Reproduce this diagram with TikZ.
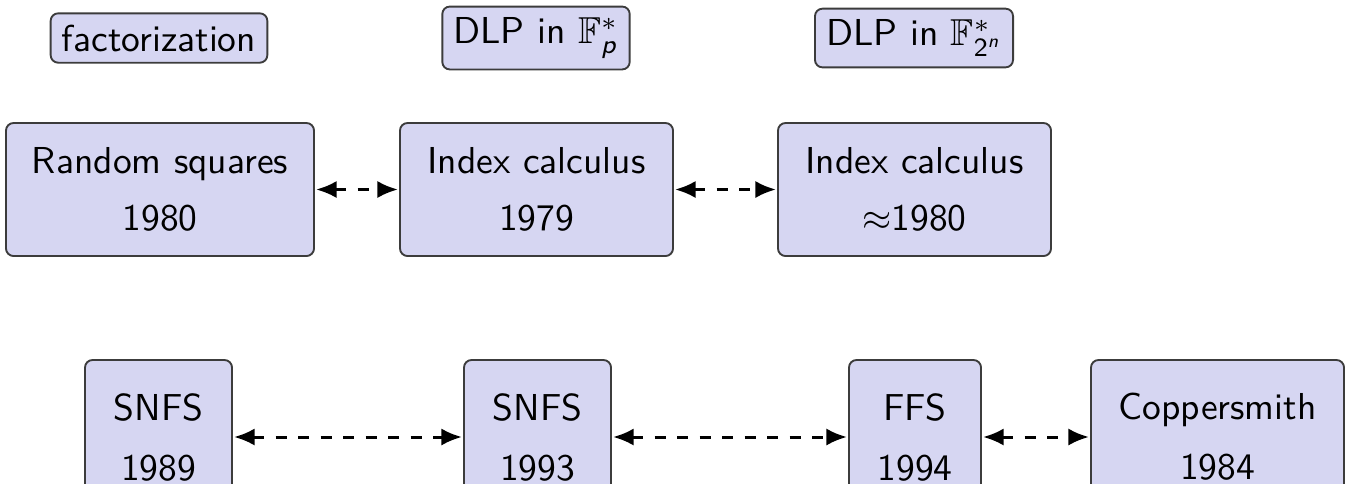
\documentclass[tikz,border=0pt]{standalone}
\usepackage{amsmath,amssymb}
\usetikzlibrary{arrows.meta}
\definecolor{boxfill}{RGB}{214,214,242}
\definecolor{boxline}{RGB}{60,60,60}
\tikzset{
  px/.style={x=0.26667pt,y=-0.26667pt},
  box/.style={draw=boxline, fill=boxfill, rounded corners=2pt, line width=0.5pt,
    font=\sffamily, align=center, inner sep=0pt},
  label/.style={draw=boxline, fill=boxfill, rounded corners=2pt, line width=0.5pt,
    font=\sffamily, inner sep=3pt},
  link/.style={dashed, line width=0.8pt, {Latex[length=5.5pt,width=4.6pt]}-{Latex[length=5.5pt,width=4.6pt]}, shorten <=0.3pt, shorten >=0.3pt}
}
\begin{document}
\begin{tikzpicture}[px]
\useasboundingbox (0,0) rectangle (1347,483);
\clip (0,0) rectangle (1347,483);
% headings
\node[label] (fact) at (159,38) {factorization};
\node[label] (dlpp) at (536,38) {DLP in $\mathbb{F}^*_{\textsf{\itshape p}}$};
\node[label] (dlp2) at (914,38) {DLP in $\mathbb{F}^*_{\textsf{2}^{\textsf{\itshape n}}}$};
% middle row
\node[box, minimum width=308*0.26667pt, minimum height=133*0.26667pt] (rs) at (160,189.5) {Random squares\\[3pt]1980};
\node[box, minimum width=273*0.26667pt, minimum height=133*0.26667pt] (ic1) at (536.5,189.5) {Index calculus\\[3pt]1979};
\node[box, minimum width=273*0.26667pt, minimum height=133*0.26667pt] (ic2) at (914.5,189.5) {Index calculus\\[3pt]$\approx$1980};
% bottom row
\node[box, minimum width=147*0.26667pt, minimum height=154*0.26667pt] (snfs1) at (158.5,437) {SNFS\\[4pt]1989};
\node[box, minimum width=147*0.26667pt, minimum height=154*0.26667pt] (snfs2) at (537.5,437) {SNFS\\[4pt]1993};
\node[box, minimum width=132*0.26667pt, minimum height=154*0.26667pt] (ffs) at (915,437) {FFS\\[4pt]1994};
\node[box, minimum width=253*0.26667pt, minimum height=154*0.26667pt] (copp) at (1217.5,437) {Coppersmith\\[4pt]1984};
% connectors
\draw[link] (rs) -- (ic1);
\draw[link] (ic1) -- (ic2);
\draw[link] (snfs1) -- (snfs2);
\draw[link] (snfs2) -- (ffs);
\draw[link] (ffs) -- (copp);
\end{tikzpicture}
\end{document}
